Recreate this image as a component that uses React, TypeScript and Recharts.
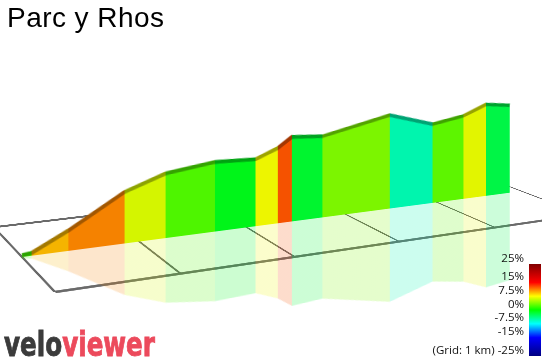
import React from "react"
import {
  AreaChart,
  Area,
  LineChart,
  BarChart,
  Bar,
  XAxis,
  YAxis,
  ReferenceLine,
} from "recharts"

// ── Data ───────────────────────────────────────────────────────────────────

// profile points along the segment (km) and elevation above the floor (m)
const DIST_KM = [0, 0.08, 0.39, 0.88, 1.25, 1.71, 2.1, 2.32, 2.46, 2.77, 3.48, 3.95, 4.3, 4.56, 4.84]
const ELEV_M = [3, 4.6, 34, 88, 112, 123, 120, 136, 153.5, 149, 176, 151, 161, 179, 173]

// 1 km ground grid
const GRID_KM = [0, 1, 2, 3, 4, 5]

// gradient legend
const LEGEND_TICKS = [25, 15, 7.5, 0, -7.5, -15, -25]

// ── Design tokens ──────────────────────────────────────────────────────────

const GRADE_SCALE: [number, string][] = [
  [25, "#800000"],
  [15, "#ff0000"],
  [7.5, "#ffff00"],
  [0, "#00ff00"],
  [-7.5, "#00ffff"],
  [-15, "#0000ff"],
  [-25, "#000080"],
]
const GRID_STROKE = "#6a6a6a"
const FACE_SHADE = 0.96
const TOP_SHADE = 0.64

// ── Helpers ────────────────────────────────────────────────────────────────

function hexToRgb(hex: string) {
  const n = parseInt(hex.slice(1), 16)
  return [(n >> 16) & 255, (n >> 8) & 255, n & 255]
}

function gradeColor(pct: number, shade = 1) {
  const p = Math.max(-25, Math.min(25, pct))
  let i = 0
  while (i < GRADE_SCALE.length - 2 && p < GRADE_SCALE[i + 1][0]) i++
  const [v0, c0] = GRADE_SCALE[i]
  const [v1, c1] = GRADE_SCALE[i + 1]
  const t = (v0 - p) / (v0 - v1)
  const a = hexToRgb(c0)
  const b = hexToRgb(c1)
  const rgb = a.map((x, k) => Math.round((x + (b[k] - x) * t) * shade))
  return `rgb(${rgb.join(",")})`
}

// perspective: fit a 2D homography from 4 local points to 4 screen points
function quadTransform(src: number[][], dst: number[][]) {
  const A: number[][] = []
  const b: number[] = []
  for (let i = 0; i < 4; i++) {
    const [x, y] = src[i]
    const [X, Y] = dst[i]
    A.push([x, y, 1, 0, 0, 0, -x * X, -y * X])
    b.push(X)
    A.push([0, 0, 0, x, y, 1, -x * Y, -y * Y])
    b.push(Y)
  }
  for (let c = 0; c < 8; c++) {
    let p = c
    for (let r = c + 1; r < 8; r++) if (Math.abs(A[r][c]) > Math.abs(A[p][c])) p = r
    ;[A[c], A[p]] = [A[p], A[c]]
    ;[b[c], b[p]] = [b[p], b[c]]
    for (let r = 0; r < 8; r++) {
      if (r === c) continue
      const f = A[r][c] / A[c][c]
      for (let k = c; k < 8; k++) A[r][k] -= f * A[c][k]
      b[r] -= f * b[c]
    }
  }
  const h = b.map((v, i) => v / A[i][i])
  return `matrix3d(${h[0]},${h[3]},0,${h[6]},${h[1]},${h[4]},0,${h[7]},0,0,1,0,${h[2]},${h[5]},0,1)`
}

// ── Derived ────────────────────────────────────────────────────────────────

const total = DIST_KM[DIST_KM.length - 1]
const segments = DIST_KM.slice(1).map((d, i) => {
  const from = DIST_KM[i]
  const grade = ((ELEV_M[i + 1] - ELEV_M[i]) / ((d - from) * 1000)) * 100
  return { from, to: d, grade }
})
const wallData = DIST_KM.map((d, i) => ({ d, elev: ELEV_M[i], refl: -ELEV_M[i] }))
const gridData = GRID_KM.map((k) => ({ d: k }))

// local chart pixels -> screen pixels
const WALL_TF = quadTransform(
  [[10, 130], [410, 130], [10, 31], [410, 31]],
  [[22, 257], [437, 202.3], [22, 157], [437, 116.4]]
)
const GROUND_TF = quadTransform(
  [[10, 55], [410, 55], [10, 100], [410, 100]],
  [[22, 257], [437, 202.3], [55, 292], [495, 227.5]]
)

function segStops(shade: number) {
  return segments.flatMap((s, i) => [
    <stop key={`${i}a`} offset={s.from / total} stopColor={gradeColor(s.grade, shade)} />,
    <stop key={`${i}b`} offset={s.to / total} stopColor={gradeColor(s.grade, shade)} />,
  ])
}

function LegendTick(props: any) {
  const { x, y, payload } = props
  const v = payload.value
  const label = v === -25 ? "(Grid: 1 km) -25%" : `${v}%`
  return (
    <text
      x={x}
      y={y - 7}
      textAnchor="end"
      dominantBaseline="central"
      fontFamily="'Open Sans', sans-serif"
      fontSize={11.5}
      fill="#111"
    >
      {label}
    </text>
  )
}

const layer: React.CSSProperties = {
  position: "absolute",
  left: 0,
  top: 0,
  transformOrigin: "0 0",
}

export default function App() {
  return (
    <div
      style={{
        position: "absolute",
        left: 0,
        top: 0,
        width: 542,
        height: 363,
        overflow: "hidden",
        background: "#fff",
      }}
    >
      {/* ground grid */}
      <div style={{ ...layer, transform: GROUND_TF }}>
        <LineChart width={520} height={110} data={gridData} margin={{ top: 10, right: 10, bottom: 10, left: 10 }}>
          <XAxis type="number" dataKey="d" domain={[0, 5]} allowDataOverflow hide />
          <YAxis type="number" domain={[-1, 1]} allowDataOverflow hide />
          <ReferenceLine y={1} stroke={GRID_STROKE} strokeWidth={3} />
          <ReferenceLine y={-1} stroke={GRID_STROKE} strokeWidth={2.8} />
          {GRID_KM.map((k) => (
            <ReferenceLine key={k} x={k} stroke={GRID_STROKE} strokeWidth={2.2} />
          ))}
        </LineChart>
      </div>

      {/* elevation wall + reflection */}
      <div style={{ ...layer, transform: WALL_TF }}>
        <AreaChart width={520} height={260} data={wallData} margin={{ top: 10, right: 10, bottom: 10, left: 10 }}>
          <defs>
            <linearGradient id="wallFace" x1="0" y1="0" x2="1" y2="0">
              {segStops(FACE_SHADE)}
            </linearGradient>
            <linearGradient id="wallTop" x1="0" y1="0" x2="1" y2="0">
              {segStops(TOP_SHADE)}
            </linearGradient>
          </defs>
          <XAxis type="number" dataKey="d" domain={[0, 5]} hide />
          <YAxis type="number" domain={[-200, 200]} hide />
          <Area
            type="linear"
            dataKey="refl"
            baseValue={0}
            fill="url(#wallFace)"
            fillOpacity={0.2}
            stroke="none"
            dot={false}
            activeDot={false}
            isAnimationActive={false}
          />
          <Area
            type="linear"
            dataKey="elev"
            baseValue={0}
            fill="url(#wallFace)"
            fillOpacity={1}
            stroke="url(#wallTop)"
            strokeWidth={4}
            dot={false}
            activeDot={false}
            isAnimationActive={false}
          />
        </AreaChart>
      </div>

      {/* grade legend */}
      <div style={{ position: "absolute", left: 400, top: 240 }}>
        <BarChart
          width={142}
          height={123}
          data={[{ name: "grade", range: [-25, 25] }]}
          margin={{ top: 24, right: 1, bottom: 7, left: 0 }}
          barCategoryGap={0}
        >
          <defs>
            <linearGradient id="gradeScale" x1="0" y1="0" x2="0" y2="1">
              {GRADE_SCALE.map(([v, c]) => (
                <stop key={v} offset={(25 - v) / 50} stopColor={c} />
              ))}
            </linearGradient>
          </defs>
          <XAxis dataKey="name" hide />
          <YAxis
            type="number"
            domain={[-25, 25]}
            ticks={LEGEND_TICKS}
            interval={0}
            width={129}
            axisLine={false}
            tickLine={false}
            tickSize={3}
            tick={<LegendTick />}
          />
          <Bar dataKey="range" fill="url(#gradeScale)" isAnimationActive={false} />
        </BarChart>
      </div>

      {/* title + logo */}
      <svg width={542} height={363} style={{ position: "absolute", left: 0, top: 0, pointerEvents: "none" }}>
        <text
          x={7}
          y={27}
          fontFamily="'Liberation Sans', Arial, sans-serif"
          fontSize={28}
          fill="#000"
          textLength={157}
          lengthAdjust="spacing"
        >
          Parc y Rhos
        </text>
        <text
          x={4}
          y={356}
          fontFamily="'DejaVu Sans', 'Liberation Sans', sans-serif"
          fontWeight={700}
          fontSize={33}
          strokeWidth={0.9}
          textLength={151}
          lengthAdjust="spacingAndGlyphs"
        >
          <tspan fill="#3b3b3b" stroke="#3b3b3b">velo</tspan>
          <tspan fill="#ec4a5c" stroke="#ec4a5c">viewer</tspan>
        </text>
      </svg>
    </div>
  )
}
